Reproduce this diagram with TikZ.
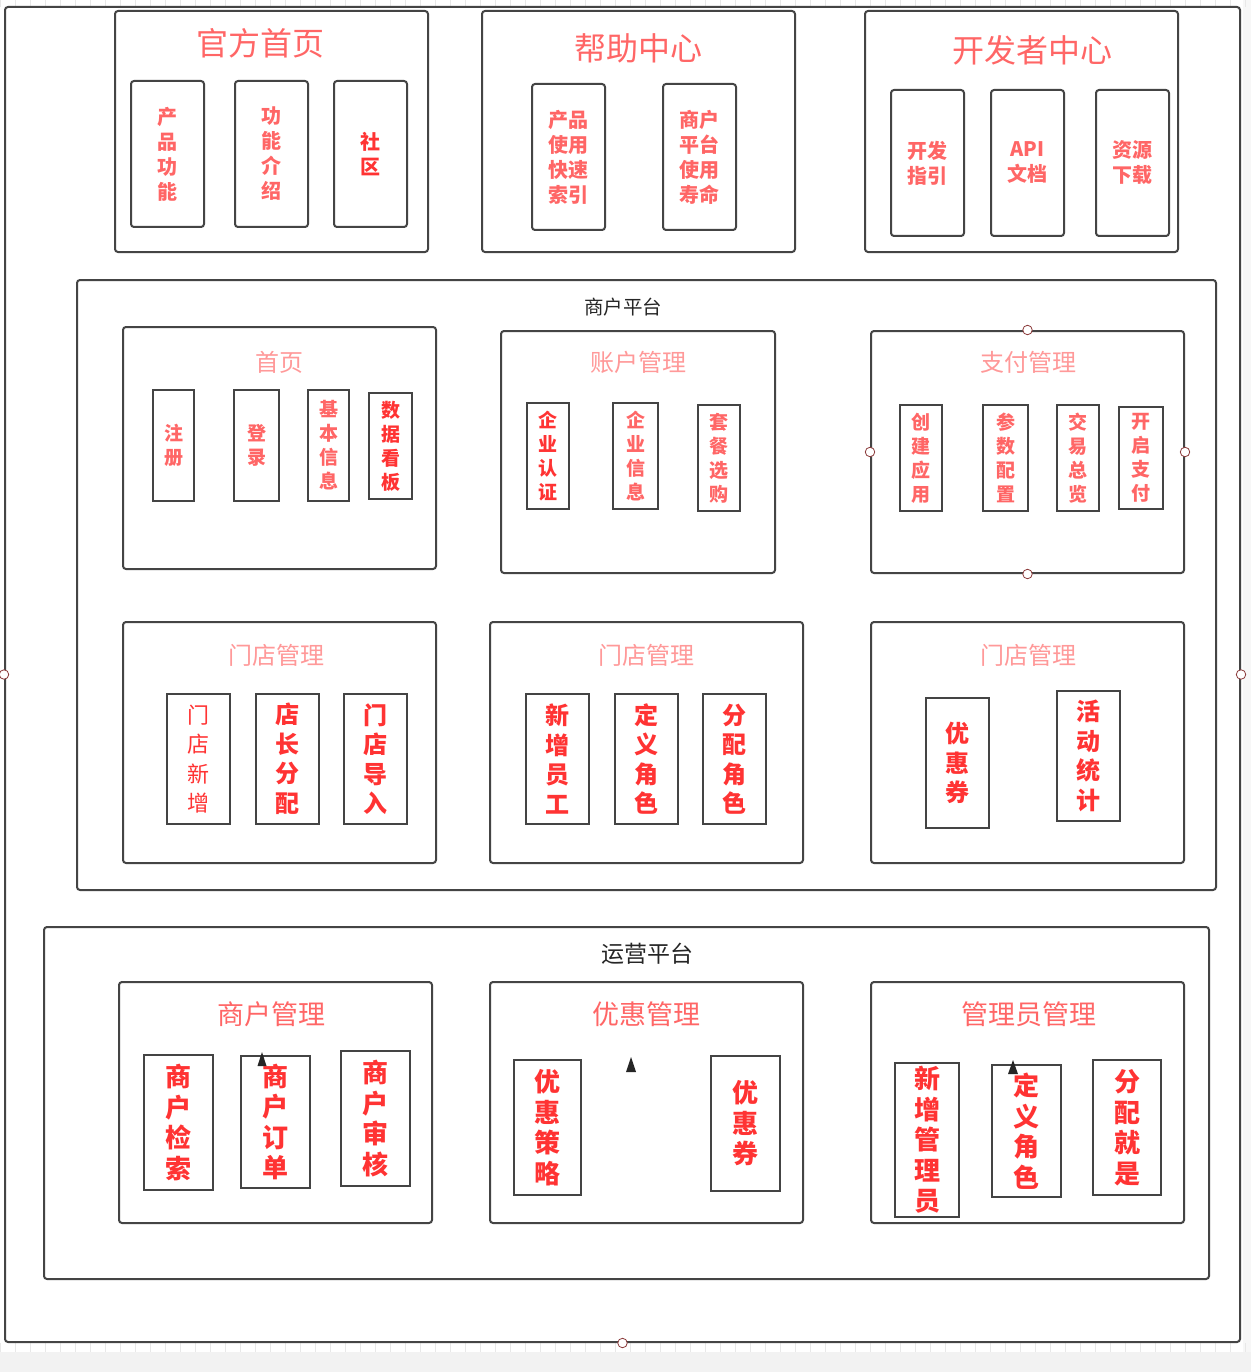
\documentclass[tikz,border=0pt]{standalone}
\usepackage{fontspec}
\setmainfont{Noto Sans CJK SC}
\definecolor{linec}{HTML}{444444}
\definecolor{redA}{HTML}{FF6666}
\definecolor{redB}{HTML}{FF9999}
\definecolor{redC}{HTML}{FF3333}
\definecolor{handlec}{HTML}{8B3A3A}
\definecolor{gridc}{HTML}{E8E8E8}
\definecolor{bgc}{HTML}{F2F2F2}
\begin{document}
\begin{tikzpicture}[x=1pt,y=-1pt,
  bigbox/.style={draw=linec, line width=2pt, rounded corners=3pt, inner sep=0pt},
  topsub/.style={draw=linec, line width=2pt, rounded corners=3pt, inner sep=0pt, align=center, font=\fontsize{20}{25}\selectfont\bfseries},
  sqsub/.style={draw=linec, line width=2pt, inner sep=0pt, align=center},
  fs19/.style={font=\fontsize{19}{24}\selectfont\bfseries},
  fs24/.style={font=\fontsize{24}{29.5}\selectfont\bfseries},
  fs26/.style={font=\fontsize{26}{30.5}\selectfont\bfseries},
  ttl32/.style={font=\fontsize{32}{38}\selectfont, text=redA},
  ttl24/.style={font=\fontsize{24}{28}\selectfont, text=redB},
  ttl27/.style={font=\fontsize{27}{32}\selectfont, text=redA},
  plab/.style={text=black!85},
  handle/.style={circle, draw=handlec, fill=white, line width=0.8pt, minimum size=9.5pt, inner sep=0pt},
  tri/.style={fill=black!85}
]
\useasboundingbox (0,0) rectangle (1251,1372);
% background
\fill[white] (0,0) rectangle (1251,1372);
\fill[bgc] (0,1352) rectangle (1251,1372);
\fill[bgc!60] (1243,0) rectangle (1251,1352);
\foreach \i in {0,15,...,1245} {
  \draw[gridc, line width=0.6pt] (\i,0) -- (\i,7);
  \draw[gridc, line width=0.6pt] (\i,1343) -- (\i,1352);
}
% outer frame
\node[bigbox, minimum width=1235, minimum height=1335] (outer) at (622.5,674.5) {};

% ===== top row =====
\node[bigbox, minimum width=313, minimum height=241] (gf) at (271.5,131.5) {};
\node[ttl32] (gft) at (260,43) {官方首页};
\node[topsub, text=redA, minimum width=73, minimum height=146] (gf1) at (167.5,154) {产\\品\\功\\能};
\node[topsub, text=redA, minimum width=73, minimum height=146] (gf2) at (271.5,154) {功\\能\\介\\绍};
\node[topsub, text=redC, minimum width=73, minimum height=146] (gf3) at (370.5,154) {社\\区};

\node[bigbox, minimum width=313, minimum height=241] (bz) at (638.5,131.5) {};
\node[ttl32] (bzt) at (638,48) {帮助中心};
\node[topsub, text=redA, minimum width=73, minimum height=146] (bz1) at (568.5,157) {产品\\使用\\快速\\索引};
\node[topsub, text=redA, minimum width=73, minimum height=146] (bz2) at (699.5,157) {商户\\平台\\使用\\寿命};

\node[bigbox, minimum width=313, minimum height=241] (kf) at (1021.5,131.5) {};
\node[ttl32] (kft) at (1032,50) {开发者中心};
\node[topsub, text=redA, minimum width=73, minimum height=146] (kf1) at (927.5,163) {开发\\指引};
\node[topsub, text=redA, minimum width=73, minimum height=146] (kf2) at (1027.5,163) {API\\文档};
\node[topsub, text=redA, minimum width=73, minimum height=146] (kf3) at (1132.5,163) {资源\\下载};

% ===== merchant platform =====
\node[bigbox, minimum width=1139, minimum height=610] (sh) at (646.5,585) {};
\node[plab, font=\fontsize{19.5}{23}\selectfont] (sht) at (623,307) {商户平台};

% 首页
\node[bigbox, minimum width=313, minimum height=242] (sy) at (279.5,448) {};
\node[ttl24] (syt) at (279,362) {首页};
\node[sqsub, fs19, text=redA, minimum width=41, minimum height=111] (sy1) at (173.5,445.5) {注\\册};
\node[sqsub, fs19, text=redA, minimum width=45, minimum height=111] (sy2) at (256.5,445.5) {登\\录};
\node[sqsub, fs19, text=redA, minimum width=41, minimum height=111] (sy3) at (328.5,445.5) {基\\本\\信\\息};
\node[sqsub, fs19, text=redC, minimum width=43, minimum height=106] (sy4) at (390.5,446) {数\\据\\看\\板};

% 账户管理
\node[bigbox, minimum width=274, minimum height=242] (zh) at (638,452) {};
\node[ttl24] (zht) at (638,362) {账户管理};
\node[sqsub, fs19, text=redC, minimum width=42, minimum height=106] (zh1) at (548,456) {企\\业\\认\\证};
\node[sqsub, fs19, text=redA, minimum width=45, minimum height=106] (zh2) at (635.5,456) {企\\业\\信\\息};
\node[sqsub, fs19, text=redA, minimum width=42, minimum height=106] (zh3) at (719,458) {套\\餐\\选\\购};

% 支付管理
\node[bigbox, minimum width=313, minimum height=242] (zf) at (1027.5,452) {};
\node[ttl24] (zft) at (1028,362) {支付管理};
\node[sqsub, fs19, text=redA, minimum width=42, minimum height=106] (zf1) at (921,458) {创\\建\\应\\用};
\node[sqsub, fs19, text=redA, minimum width=45, minimum height=106] (zf2) at (1005.5,458) {参\\数\\配\\置};
\node[sqsub, fs19, text=redA, minimum width=42, minimum height=106] (zf3) at (1078,458) {交\\易\\总\\览};
\node[sqsub, fs19, text=redA, minimum width=44, minimum height=102] (zf4) at (1141,458) {开\\启\\支\\付};

% 门店管理 row
\node[bigbox, minimum width=313, minimum height=241] (md1) at (279.5,742.5) {};
\node[ttl24] (md1t) at (276,655) {门店管理};
\node[sqsub, font=\fontsize{22}{29.5}\selectfont, text=redC, minimum width=63, minimum height=130] (md11) at (198.5,759) {门\\店\\新\\增};
\node[sqsub, fs24, text=redC, minimum width=63, minimum height=130] (md12) at (287.5,759) {店\\长\\分\\配};
\node[sqsub, fs24, text=redC, minimum width=63, minimum height=130] (md13) at (375.5,759) {门\\店\\导\\入};

\node[bigbox, minimum width=313, minimum height=241] (md2) at (646.5,742.5) {};
\node[ttl24] (md2t) at (646,655) {门店管理};
\node[sqsub, fs24, text=redC, minimum width=63, minimum height=130] (md21) at (557.5,759) {新\\增\\员\\工};
\node[sqsub, fs24, text=redC, minimum width=63, minimum height=130] (md22) at (646.5,759) {定\\义\\角\\色};
\node[sqsub, fs24, text=redC, minimum width=63, minimum height=130] (md23) at (734.5,759) {分\\配\\角\\色};

\node[bigbox, minimum width=313, minimum height=241] (md3) at (1027.5,742.5) {};
\node[ttl24] (md3t) at (1028,655) {门店管理};
\node[sqsub, fs24, text=redC, minimum width=63, minimum height=130] (md31) at (957.5,763) {优\\惠\\券};
\node[sqsub, fs24, text=redC, minimum width=63, minimum height=130] (md32) at (1088.5,756) {活\\动\\统\\计};

% ===== operation platform =====
\node[bigbox, minimum width=1165, minimum height=352] (yy) at (626.5,1103) {};
\node[plab, font=\fontsize{23}{27}\selectfont] (yyt) at (647,954) {运营平台};

\node[bigbox, minimum width=313, minimum height=241] (shg) at (275.5,1102.5) {};
\node[ttl27] (shgt) at (271,1014) {商户管理};
\node[sqsub, fs26, text=redC, minimum width=69, minimum height=135] (shg1) at (178.5,1122.5) {商\\户\\检\\索};
\node[sqsub, fs26, text=redC, minimum width=69, minimum height=132] (shg2) at (275.5,1122) {商\\户\\订\\单};
\node[sqsub, fs26, text=redC, minimum width=69, minimum height=135] (shg3) at (375.5,1118.5) {商\\户\\审\\核};

\node[bigbox, minimum width=313, minimum height=241] (yh) at (646.5,1102.5) {};
\node[ttl27] (yht) at (646,1014) {优惠管理};
\node[sqsub, fs26, text=redC, minimum width=67, minimum height=135] (yh1) at (547.5,1127.5) {优\\惠\\策\\略};
\node[sqsub, fs26, text=redC, minimum width=69, minimum height=135] (yh2) at (745.5,1123.5) {优\\惠\\券};

\node[bigbox, minimum width=313, minimum height=241] (gl) at (1027.5,1102.5) {};
\node[ttl27] (glt) at (1029,1014) {管理员管理};
\node[sqsub, fs26, text=redC, minimum width=64, minimum height=154] (gl1) at (927,1140) {新\\增\\管\\理\\员};
\node[sqsub, fs26, text=redC, minimum width=69, minimum height=132] (gl2) at (1026.5,1131) {定\\义\\角\\色};
\node[sqsub, fs26, text=redC, minimum width=68, minimum height=135] (gl3) at (1127,1127.5) {分\\配\\就\\是};

% stray arrowheads
\fill[tri] (262,1052) -- (266.5,1066) -- (257.5,1066) -- cycle;
\fill[tri] (631,1057) -- (636,1072) -- (626,1072) -- cycle;
\fill[tri] (1013,1060) -- (1018,1074) -- (1008,1074) -- cycle;

% handles
\node[handle] (h1) at (zf.north) {};
\node[handle] (h2) at (zf.south) {};
\node[handle] (h3) at (zf.west) {};
\node[handle] (h4) at (zf.east) {};
\node[handle] (h5) at (outer.west) {};
\node[handle] (h6) at (outer.east) {};
\node[handle] (h7) at (outer.south) {};
\end{tikzpicture}
\end{document}
